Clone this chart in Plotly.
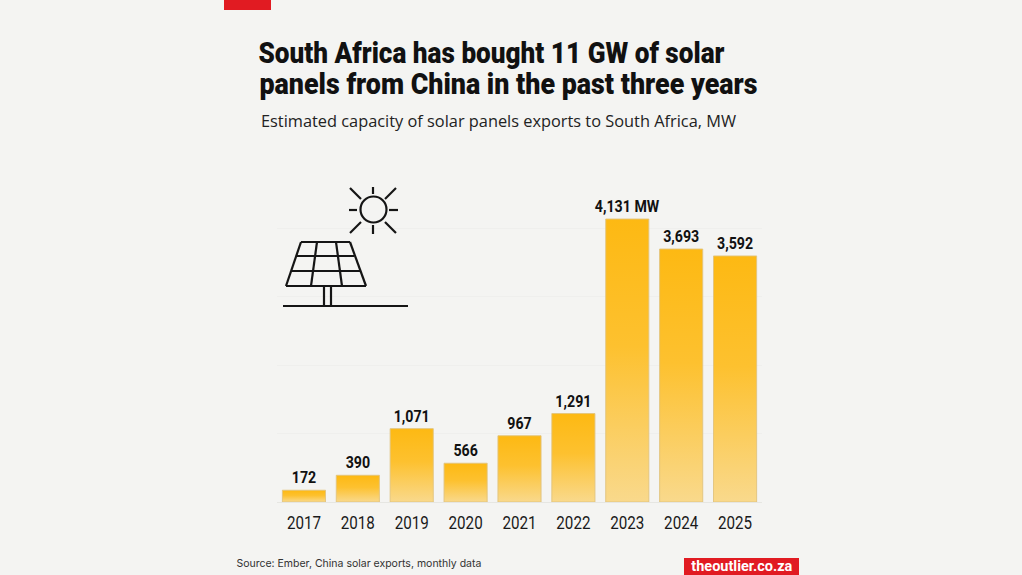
import plotly.graph_objects as go

W, H = 1022, 575
years = ["2017", "2018", "2019", "2020", "2021", "2022", "2023", "2024", "2025"]
capacity_mw = [172, 390, 1071, 566, 967, 1291, 4131, 3693, 3592]
bar_labels = ["172", "390", "1,071", "566", "967", "1,291", "4,131 MW", "3,693", "3,592"]

BG = "#f4f4f2"
INK = "#111111"
HEAD = "Roboto"


def px(x):
    return x / W


def py(y):
    return 1 - y / H


fig = go.Figure(go.Bar(
    x=years, y=capacity_mw, text=bar_labels, textposition="outside", cliponaxis=False,
    constraintext="none", textangle=0,
    textfont=dict(family=HEAD, size=16.5, color=INK, weight=700),
    marker=dict(color="#fdbb1e", line=dict(color="rgba(225,195,125,0.9)", width=1)),
    width=0.8, hoverinfo="x+y",
))

shapes = []


def line(x0, y0, x1, y1, w=2.2):
    shapes.append(dict(type="line", xref="paper", yref="paper", x0=px(x0), y0=py(y0), x1=px(x1), y1=py(y1),
                       line=dict(color="#151515", width=w)))


# sun
shapes.append(dict(type="circle", xref="paper", yref="paper", x0=px(360.5), y0=py(196.5), x1=px(386.5), y1=py(222.5),
                   line=dict(color="#151515", width=2.2)))
for seg in [(373, 187, 373, 194), (373, 225, 373, 234), (349, 210, 357, 210), (389, 210, 398, 210),
            (350, 188, 361, 199), (396, 188, 385, 199), (350, 233, 361, 222), (396, 233, 385, 222)]:
    line(*seg)
# panel
for seg in [(301, 242, 350, 242), (286, 286, 366, 286), (301, 242, 286, 286), (350, 242, 366, 286),
            (297, 256, 354, 256), (292, 271, 360, 271),
            (317, 242, 311, 286), (336, 242, 342, 286),
            (324, 286, 324, 306), (331, 286, 331, 306), (283, 306, 408, 306)]:
    line(*seg)
# red furniture
shapes.append(dict(type="rect", xref="paper", yref="paper", x0=px(224), x1=px(271), y0=py(10), y1=py(0),
                   fillcolor="#e11b22", line_width=0))
shapes.append(dict(type="rect", xref="paper", yref="paper", x0=px(684), x1=px(799), y0=py(575), y1=py(558),
                   fillcolor="#e11b22", line_width=0))


def note(x, y, text, family, size, color, weight=400, anchor="center"):
    return dict(xref="paper", yref="paper", x=px(x), y=py(y), text=text, showarrow=False, xanchor=anchor,
                yanchor="middle", font=dict(family=family, size=size, color=color, weight=weight))


annotations = [
    note(492, 53, "South Africa has bought 11 GW of solar", HEAD, 30, INK, 900),
    note(508, 84, "panels from China in the past three years", HEAD, 30, INK, 900),
    note(498.5, 121, "Estimated capacity of solar panels exports to South Africa, MW", "Open Sans", 16, "#222222"),
    note(358.5, 563, "Source: Ember, China solar exports, monthly data", "Inter", 10.8, "#333333"),
    note(741.5, 566, "theoutlier.co.za", "Roboto", 14, "#ffffff", 700),
]

fig.update_layout(
    width=W, height=H, margin=dict(l=0, r=0, t=0, b=0), showlegend=False,
    paper_bgcolor=BG, plot_bgcolor=BG, shapes=shapes, annotations=annotations,
    font=dict(family="Open Sans", color=INK),
    xaxis=dict(domain=[px(277), px(762)], type="category", showgrid=False, ticks="", showline=False,
               tickfont=dict(family=HEAD, size=18.5, color="#1a1a1a"), ticklabelstandoff=7),
    yaxis=dict(domain=[py(502), py(214.3)], range=[0, 4200], dtick=1000, showticklabels=False,
               gridcolor="#efefed", gridwidth=1, zeroline=True, zerolinecolor="#e6e6e2", zerolinewidth=1),
)

post_js = """
document.body.style.margin = '0';
var gd = document.getElementById('{plot_id}');
var titleWidths = {
  'South Africa has bought 11 GW of solar': 466,
  'panels from China in the past three years': 498,
  'Estimated capacity of solar panels exports to South Africa, MW': 475,
  'Source: Ember, China solar exports, monthly data': 245,
  'theoutlier.co.za': 101
};
function fit(el, width) {
  el.setAttribute('textLength', width);
  el.setAttribute('lengthAdjust', 'spacingAndGlyphs');
}
function narrow(el, factor) {
  el.removeAttribute('textLength');
  fit(el, el.getComputedTextLength() * factor);
}
function paint() {
  var svg = gd.querySelector('svg.main-svg');
  if (!svg) return;
  var ns = 'http://www.w3.org/2000/svg';
  if (!document.getElementById('barGrad')) {
    var defs = document.createElementNS(ns, 'defs');
    var g = document.createElementNS(ns, 'linearGradient');
    g.setAttribute('id', 'barGrad');
    g.setAttribute('x1', '0'); g.setAttribute('y1', '0');
    g.setAttribute('x2', '0'); g.setAttribute('y2', '1');
    [['0', '#fdb913'], ['0.45', '#fdc12f'], ['1', '#f9d98c']].forEach(function (s) {
      var st = document.createElementNS(ns, 'stop');
      st.setAttribute('offset', s[0]); st.setAttribute('stop-color', s[1]);
      g.appendChild(st);
    });
    defs.appendChild(g);
    svg.insertBefore(defs, svg.firstChild);
  }
  gd.querySelectorAll('.bars .point path').forEach(function (p) {
    p.style.fill = 'url(#barGrad)';
  });
  gd.querySelectorAll('.annotation-text').forEach(function (t) {
    var w = titleWidths[t.textContent];
    if (w) fit(t, w);
  });
  gd.querySelectorAll('.bars .bartext').forEach(function (t) { narrow(t, 0.86); });
  gd.querySelectorAll('.xtick text').forEach(function (t) { narrow(t, 0.82); });
}
paint();
gd.on('plotly_afterplot', paint);
"""

fig.write_html("out.html", post_script=post_js, config={"displayModeBar": False})
